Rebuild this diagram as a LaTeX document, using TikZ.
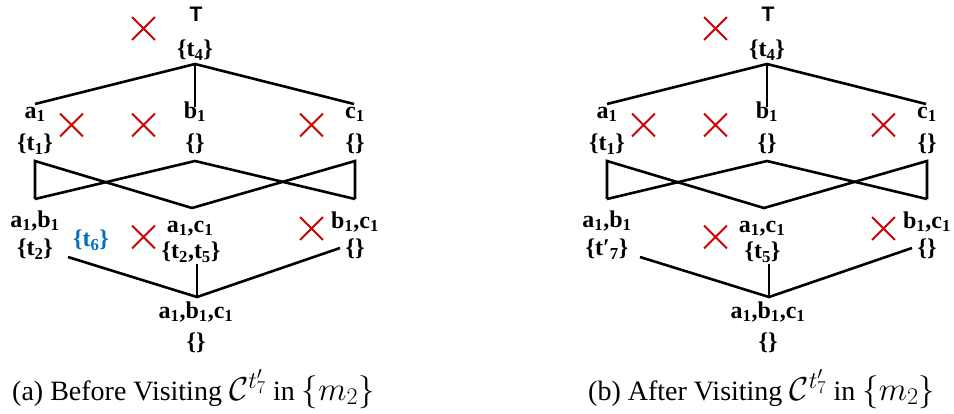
\RequirePackage{fix-cm}
\documentclass[tikz,border=0pt]{standalone}
\usepackage{fontspec}
\setmainfont{Liberation Serif}
\newfontfamily\topfont{Liberation Sans}
\usetikzlibrary{shapes.misc}
\definecolor{CrossRed}{RGB}{204,0,0}
\definecolor{SetBlue}{RGB}{0,112,192}
\DeclareMathSizes{28}{33}{24}{18}

\begin{document}
\begin{tikzpicture}[x=1pt,y=-1pt,
    lbl/.style={font=\fontsize{24}{26}\selectfont\bfseries,inner sep=0pt},
    edge/.style={line width=2.6pt},
    cross/.style={cross out,draw=CrossRed,line width=1.8pt,minimum size=21pt,inner sep=0pt},
    caption/.style={font=\fontsize{28}{32}\selectfont,inner sep=0pt,anchor=base west}]
  \useasboundingbox (0,0) rectangle (954,413);
  % common lattice of both panels
  \foreach \p/\dx in {L/0,R/572}{
    \begin{scope}[xshift=\dx]
      \node[font=\topfont\bfseries\fontsize{21}{22}\selectfont,inner sep=0pt] (\p-T) at (196,14) {T};
      \node[lbl] (\p-TS) at (195,50) {\{t\textsubscript{4}\}};
      \node[lbl,anchor=base] (\p-a) at (35,118) {a\textsubscript{1}};
      \node[lbl] (\p-aS) at (35,144) {\{t\textsubscript{1}\}};
      \node[lbl,anchor=base] (\p-b) at (195,118) {b\textsubscript{1}};
      \node[lbl] (\p-bS) at (195,144) {\{\}};
      \node[lbl,anchor=base] (\p-c) at (355,118) {c\textsubscript{1}};
      \node[lbl] (\p-cS) at (355,144) {\{\}};
      \node[lbl,anchor=base] (\p-ab) at (35,227) {a\textsubscript{1},b\textsubscript{1}};
      \node[lbl,anchor=base] (\p-ac) at (190,232) {a\textsubscript{1},c\textsubscript{1}};
      \node[lbl,anchor=base] (\p-bc) at (355,228) {b\textsubscript{1},c\textsubscript{1}};
      \node[lbl] (\p-bcS) at (355,249) {\{\}};
      \node[lbl,anchor=base] (\p-abc) at (196,318) {a\textsubscript{1},b\textsubscript{1},c\textsubscript{1}};
      \node[lbl] (\p-abcS) at (196,343) {\{\}};
      % end points of the edges
      \coordinate (\p-hub) at (195,64);
      \coordinate (\p-aIn) at (35,104);
      \coordinate (\p-bIn) at (195,107);
      \coordinate (\p-cIn) at (354,104);
      \coordinate (\p-aOut) at (35,161);
      \coordinate (\p-bOut) at (195,161);
      \coordinate (\p-cOut) at (355,161);
      \coordinate (\p-abIn) at (35,199);
      \coordinate (\p-acIn) at (192,208);
      \coordinate (\p-bcIn) at (355,199);
      \coordinate (\p-abOut) at (68,257);
      \coordinate (\p-acOut) at (197,264);
      \coordinate (\p-bcOut) at (340,248);
      \coordinate (\p-low) at (197,297);
      \draw[edge] (\p-aIn) -- (\p-hub) -- (\p-cIn);
      \draw[edge] (\p-hub) -- (\p-bIn);
      \draw[edge] (\p-abIn) -- (\p-aOut) -- (\p-acIn) -- (\p-cOut) -- (\p-bcIn);
      \draw[edge] (\p-abIn) -- (\p-bOut) -- (\p-bcIn);
      \draw[edge] (\p-abOut) -- (\p-low) -- (\p-bcOut);
      \draw[edge] (\p-acOut) -- (\p-low);
      % pruned candidates
      \node[cross] (\p-x1) at (143.5,28.5) {};
      \node[cross] (\p-x2) at (71.5,125) {};
      \node[cross] (\p-x3) at (143.5,125) {};
      \node[cross] (\p-x4) at (311.5,125) {};
      \node[cross] (\p-x5) at (143.5,237) {};
      \node[cross] (\p-x6) at (311.5,228.5) {};
    \end{scope}
  }
  % before visiting
  \node[lbl] (L-abS) at (35,249) {\{t\textsubscript{2}\}};
  \node[lbl] (L-acS) at (191,252) {\{t\textsubscript{2},t\textsubscript{5}\}};
  \node[lbl,SetBlue] (L-new) at (91,240) {\{t\textsubscript{6}\}};
  \node[caption] (capA) at (12,400) {(a) Before Visiting $\mathcal{C}^{t'_7}$ in $\{m_2\}$};
  % after visiting
  \node[lbl] (R-abS) at (607,249) {\{t′\textsubscript{7}\}};
  \node[lbl] (R-acS) at (762.5,252) {\{t\textsubscript{5}\}};
  \node[caption] (capB) at (588,400) {(b) After Visiting $\mathcal{C}^{t'_7}$ in $\{m_2\}$};
\end{tikzpicture}
\end{document}
